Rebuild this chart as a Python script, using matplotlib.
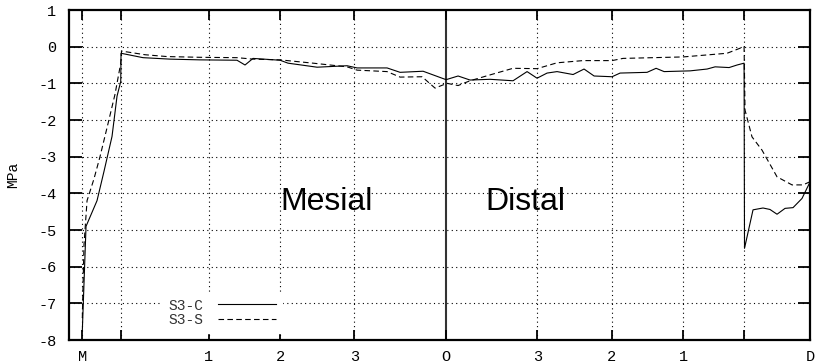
import matplotlib.pyplot as plt

# position along the section (M = 0, D = 100) and stress in MPa
x_c = [0.0, 0.51, 2.02, 2.98, 4.08, 4.77, 5.28, 5.32, 8.34, 12.05, 16.17, 21.26, 22.36,
       23.46, 27.17, 28.27, 32.26, 36.38, 37.76, 41.88, 43.67, 46.83, 49.99, 51.64,
       53.28, 56.03, 59.19, 61.12, 62.49, 63.87, 65.24, 67.44, 68.95, 70.33, 72.8,
       73.9, 77.61, 78.85, 79.95, 83.52, 85.86, 86.96, 88.88, 89.98, 90.94, 91.0,
       92.17, 93.54, 94.5, 95.47, 96.57, 97.67, 98.9, 99.93]
s3_c = [-7.75, -4.9, -4.2, -3.4, -2.45, -1.35, -0.95, -0.18, -0.3, -0.34, -0.36, -0.37,
        -0.5, -0.32, -0.37, -0.45, -0.56, -0.52, -0.58, -0.58, -0.7, -0.67, -0.9,
        -0.8, -0.91, -0.89, -0.93, -0.68, -0.86, -0.72, -0.68, -0.76, -0.61, -0.8,
        -0.82, -0.72, -0.7, -0.59, -0.68, -0.66, -0.61, -0.55, -0.57, -0.5, -0.45,
        -5.5, -4.45, -4.4, -4.44, -4.57, -4.41, -4.39, -4.14, -3.72]

x_s = [0.0, 0.23, 0.65, 1.61, 2.43, 3.53, 4.49, 5.28, 5.39, 8.62, 11.64, 16.17, 21.26,
       23.46, 27.17, 31.71, 36.38, 37.76, 41.88, 43.67, 46.69, 48.47, 50.12, 51.64,
       53.28, 56.03, 59.19, 62.49, 65.24, 68.81, 72.8, 74.3, 82.55, 88.6, 90.94,
       91.07, 92.03, 93.4, 95.47, 97.53, 99.04, 99.93]
s3_s = [-7.4, -5.4, -4.2, -3.6, -3.0, -2.1, -1.3, -0.45, -0.12, -0.22, -0.27, -0.29,
        -0.3, -0.34, -0.36, -0.45, -0.55, -0.64, -0.68, -0.83, -0.82, -1.13, -1.0,
        -1.06, -0.93, -0.77, -0.59, -0.6, -0.44, -0.38, -0.38, -0.32, -0.28, -0.18,
        0.0, -1.73, -2.46, -2.82, -3.55, -3.77, -3.77, -3.69]

tick_pos = [0, 5.28, 17.37, 27.17, 37.38, 50, 62.53, 72.75, 82.59, 90.97, 100]
tick_labels = ['M', '', '1', '2', '3', 'O', '3', '2', '1', '', 'D']
y_ticks = [1, 0, -1, -2, -3, -4, -5, -6, -7, -8]

mono = 'Liberation Mono'

fig = plt.figure(figsize=(8.15, 3.64), dpi=100)
ax = fig.add_axes([69 / 815, 24 / 364, 741 / 815, 330 / 364])

# gnuplot-like dotted grid, solid line at the centre O
for xp in tick_pos:
    if xp == 50:
        ax.axvline(xp, color='#333333', lw=1.5, zorder=1)
    elif xp < 100:
        ax.axvline(xp, color='black', lw=0.8, ls=(0, (1, 3)), zorder=1)
for yv in y_ticks[1:-1]:
    ax.axhline(yv, color='black', lw=0.8, ls=(0, (1, 3)), zorder=1)

ax.plot(x_c, s3_c, color='black', lw=0.8, label='S3-C', zorder=3)
ax.plot(x_s, s3_s, color='black', lw=0.8, dashes=(5, 3), label='S3-S', zorder=3)

ax.text(33.5, -4.24, 'Mesial', fontsize=23, family='Liberation Sans',
        ha='center', va='center', zorder=4)
ax.text(60.9, -4.24, 'Distal', fontsize=23, family='Liberation Sans',
        ha='center', va='center', zorder=4)

ax.set_xlim(-1.83, 100)
ax.set_ylim(-8, 1)
ax.set_xticks(tick_pos)
ax.set_xticklabels(tick_labels, family=mono, fontsize=11)
ax.set_yticks(y_ticks)
ax.set_yticklabels([str(v) for v in y_ticks], family=mono, fontsize=11)
ax.tick_params(axis='x', direction='in', top=True, length=7, width=1.3, pad=7)
ax.tick_params(axis='y', direction='in', right=True, length=9, width=1.3, pad=9)
for sp in ax.spines.values():
    sp.set_linewidth(1.6)

ax.set_ylabel('MPa', family=mono, fontsize=10.5)
ax.yaxis.set_label_coords(-0.066, 0.5)

leg = ax.legend(loc='lower left', bbox_to_anchor=(0.126, 0.021), borderaxespad=0,
                frameon=True, fancybox=False, facecolor='white', edgecolor='white',
                framealpha=1, markerfirst=False, handlelength=4.0, handletextpad=1.0,
                labelspacing=0.05, borderpad=0.4,
                prop={'family': mono, 'size': 10.5})
leg.set_zorder(5)
for t in leg.get_texts():
    t.set_color('#333333')

fig.savefig('out.png', dpi=100)
